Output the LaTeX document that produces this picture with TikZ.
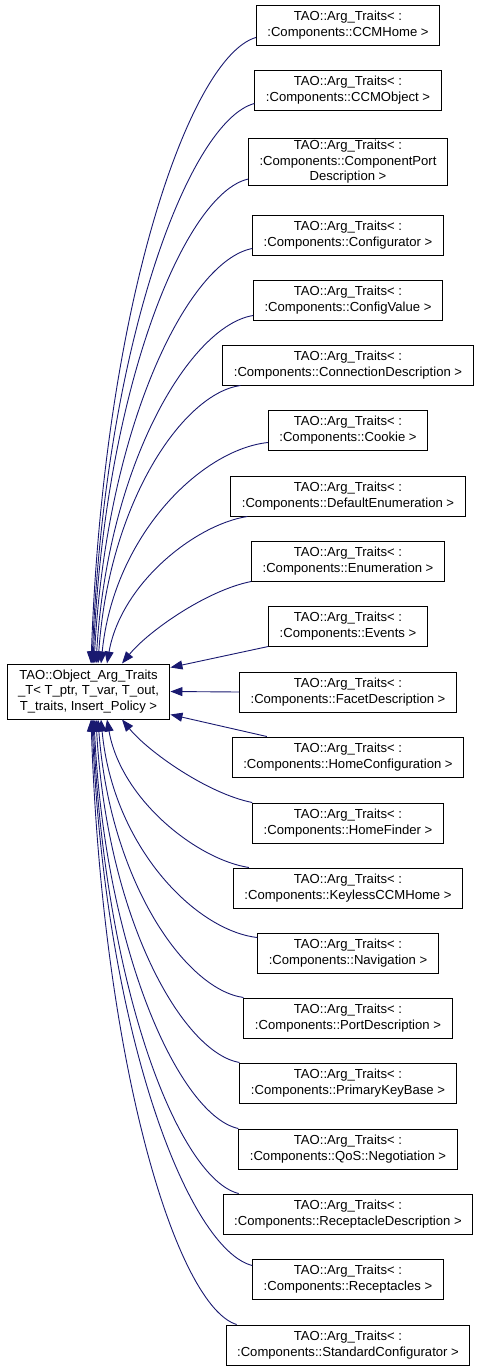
\documentclass[tikz,border=0pt]{standalone}
\usepackage{tikz}
\usepackage{xcolor}
\usepackage{fontspec}
\setmainfont{Liberation Sans}
\usetikzlibrary{arrows.meta}
\definecolor{edgeblue}{HTML}{191970}

\begin{document}
\begin{tikzpicture}[x=1pt, y=-1pt,
  cls/.style={draw, line width=1pt, align=center, inner xsep=11pt, inner ysep=2pt, minimum height=40pt, font=\fontsize{13.1}{15.5}\selectfont},
  inh/.style={->, draw=edgeblue, line width=0.9pt},
  >={Triangle[length=12pt, width=9pt]}]
\useasboundingbox (0,0) rectangle (480,1371);

% base class
\node[cls, minimum height=55pt] (base) at (88.5,691.5) {TAO::Object\_Arg\_Traits\\\_T< T\_ptr, T\_var, T\_out,\\T\_traits, Insert\_Policy >};

% specialisations
\node[cls] (ccmhome) at (348,25) {TAO::Arg\_Traits< :\\:Components::CCMHome >};
\node[cls] (ccmobject) at (348,90) {TAO::Arg\_Traits< :\\:Components::CCMObject >};
\node[cls] (cpdesc) at (348,162) {TAO::Arg\_Traits< :\\:Components::ComponentPort\\Description >};
\node[cls] (configurator) at (348,235) {TAO::Arg\_Traits< :\\:Components::Configurator >};
\node[cls] (configvalue) at (348,300) {TAO::Arg\_Traits< :\\:Components::ConfigValue >};
\node[cls] (conndesc) at (348,365) {TAO::Arg\_Traits< :\\:Components::ConnectionDescription >};
\node[cls] (cookie) at (348,430) {TAO::Arg\_Traits< :\\:Components::Cookie >};
\node[cls] (defenum) at (348,496) {TAO::Arg\_Traits< :\\:Components::DefaultEnumeration >};
\node[cls] (enum) at (348,561) {TAO::Arg\_Traits< :\\:Components::Enumeration >};
\node[cls] (events) at (348,626) {TAO::Arg\_Traits< :\\:Components::Events >};
\node[cls] (facetdesc) at (348,692) {TAO::Arg\_Traits< :\\:Components::FacetDescription >};
\node[cls] (homeconfig) at (348,757) {TAO::Arg\_Traits< :\\:Components::HomeConfiguration >};
\node[cls] (homefinder) at (348,823) {TAO::Arg\_Traits< :\\:Components::HomeFinder >};
\node[cls] (keyless) at (348,888) {TAO::Arg\_Traits< :\\:Components::KeylessCCMHome >};
\node[cls] (navigation) at (348,953) {TAO::Arg\_Traits< :\\:Components::Navigation >};
\node[cls] (portdesc) at (348,1018) {TAO::Arg\_Traits< :\\:Components::PortDescription >};
\node[cls] (pkbase) at (348,1083) {TAO::Arg\_Traits< :\\:Components::PrimaryKeyBase >};
\node[cls] (qos) at (348,1149) {TAO::Arg\_Traits< :\\:Components::QoS::Negotiation >};
\node[cls] (recdesc) at (348,1214) {TAO::Arg\_Traits< :\\:Components::ReceptacleDescription >};
\node[cls] (receptacles) at (348,1279) {TAO::Arg\_Traits< :\\:Components::Receptacles >};
\node[cls] (stdconfig) at (348,1345) {TAO::Arg\_Traits< :\\:Components::StandardConfigurator >};

% upper edges
\draw[inh] ([yshift=8]ccmhome.south west) .. controls +(-65,19) and +(13,-364) .. ([xshift=2.5]base.north);
\draw[inh] ([yshift=7]ccmobject.south west) .. controls +(-64,17) and +(13,-325) .. ([xshift=3.5]base.north);
\draw[inh] ([yshift=7]cpdesc.south west) .. controls +(-62,14) and +(12,-280) .. ([xshift=4.5]base.north);
\draw[inh] ([yshift=7]configurator.south west) .. controls +(-63,12) and +(13,-241) .. ([xshift=5.5]base.north);
\draw[inh] ([yshift=5]configvalue.south west) .. controls +(-62,10) and +(12,-202) .. ([xshift=7.5]base.north);
\draw[inh] ([xshift=18]conndesc.south west) .. controls +(-57,8) and +(11,-162) .. ([xshift=9.5]base.north);
\draw[inh] ([yshift=8]cookie.south west) .. controls +(-66,7) and +(13,-129) .. ([xshift=12.5]base.north);
\draw[inh] ([xshift=17]defenum.south west) .. controls +(-52,8) and +(14,-80) .. ([xshift=18.5]base.north);
\draw[inh] (enum.south west) .. controls +(-45,9) and +(26,-32) .. ([xshift=33.5]base.north);
\draw[inh] (events.south west) -- ([yshift=-4]base.north east);
\draw[inh] (facetdesc.west) -- (base.east);
\draw[inh] ([xshift=35]homeconfig.north west) -- ([yshift=5]base.south east);

% lower edges
\draw[inh] (homefinder.north west) .. controls +(-45,-9) and +(26,32) .. ([xshift=33.5]base.south);
\draw[inh] ([xshift=16]keyless.north west) .. controls +(-52,-8) and +(14,80) .. ([xshift=18.5]base.south);
\draw[inh] ([yshift=-5]navigation.north west) .. controls +(-62,-7) and +(12,127) .. ([xshift=12.5]base.south);
\draw[inh] (portdesc.north west) .. controls +(-58,-8) and +(12,162) .. ([xshift=9.5]base.south);
\draw[inh] (pkbase.north west) .. controls +(-57,-10) and +(11,200) .. ([xshift=7.5]base.south);
\draw[inh] (qos.north west) .. controls +(-57,-12) and +(11,237) .. ([xshift=5.5]base.south);
\draw[inh] ([xshift=16]recdesc.north west) .. controls +(-58,-14) and +(12,276) .. ([xshift=4.5]base.south);
\draw[inh] ([yshift=-7]receptacles.north west) .. controls +(-63,-16) and +(13,317) .. ([xshift=3.5]base.south);
\draw[inh] ([xshift=11]stdconfig.north west) .. controls +(-59,-18) and +(12,351) .. ([xshift=2.5]base.south);
\end{tikzpicture}
\end{document}
